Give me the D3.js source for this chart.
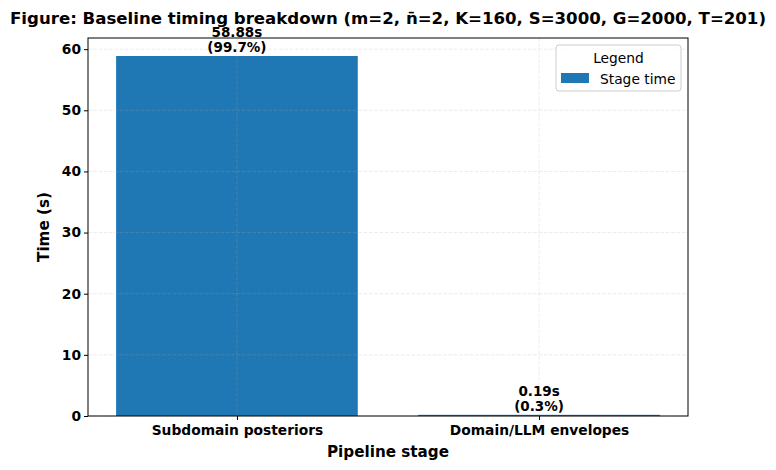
<!DOCTYPE html>
<html>
<head>
<meta charset="utf-8">
<script src="https://cdn.jsdelivr.net/npm/d3@7"></script>
<style>
  body { margin: 0; background: #fff; }
  text { font-family: "DejaVu Sans", sans-serif; }
</style>
</head>
<body>
<div id="chart"></div>
<script>
// stage timings
const stages = ["Subdomain posteriors", "Domain/LLM envelopes"];
const times = [58.88, 0.19];
const shares = ["99.7%", "0.3%"];
const yTicks = [0, 10, 20, 30, 40, 50, 60];

const W = 776, H = 470;
const margin = {top: 38, right: 88, bottom: 54, left: 88},
    width = W - margin.left - margin.right,
    height = H - margin.top - margin.bottom;

const svg = d3.select("#chart").append("svg")
    .attr("width", W)
    .attr("height", H);

const g = svg.append("g")
    .attr("transform", "translate(" + margin.left + "," + margin.top + ")");

// matplotlib-like linear x with bars of width 0.8
const x = d3.scaleLinear().domain([-0.493, 1.493]).range([0, width]);
const y = d3.scaleLinear().domain([0, d3.max(times) * 1.05]).range([height, 0]);
const barW = x(0.8) - x(0);

g.selectAll("rect.bar")
    .data(times)
    .enter().append("rect")
    .attr("class", "bar")
    .attr("x", (d, i) => x(i) - barW / 2)
    .attr("y", d => y(d))
    .attr("width", barW)
    .attr("height", d => y(0) - y(d))
    .attr("fill", "#1f77b4");

// grid on top, faint dashed
g.selectAll("line.hgrid")
    .data(yTicks)
    .enter().append("line")
    .attr("x1", 0).attr("x2", width)
    .attr("y1", d => y(d)).attr("y2", d => y(d))
    .attr("stroke", "#b0b0b0").attr("stroke-opacity", 0.3)
    .attr("stroke-dasharray", "3.7,1.6").attr("stroke-width", 0.8);

g.selectAll("line.vgrid")
    .data(stages)
    .enter().append("line")
    .attr("x1", (d, i) => x(i)).attr("x2", (d, i) => x(i))
    .attr("y1", 0).attr("y2", height)
    .attr("stroke", "#b0b0b0").attr("stroke-opacity", 0.3)
    .attr("stroke-dasharray", "3.7,1.6").attr("stroke-width", 0.8);

// value labels
const lab = g.selectAll("text.val")
    .data(times)
    .enter().append("text")
    .attr("class", "val")
    .attr("text-anchor", "middle")
    .attr("font-size", 13.5)
    .attr("font-weight", "bold");
lab.append("tspan")
    .attr("x", (d, i) => x(i))
    .attr("y", d => y(d) - 19)
    .text(d => d.toFixed(2) + "s");
lab.append("tspan")
    .attr("x", (d, i) => x(i))
    .attr("y", d => y(d) - 4)
    .text((d, i) => "(" + shares[i] + ")");

// axes
const xAxis = g.append("g")
    .attr("transform", "translate(0," + height + ")")
    .call(d3.axisBottom(x).tickValues([0, 1]).tickFormat((d, i) => stages[i]).tickSize(4).tickSizeOuter(0));
xAxis.select(".domain").remove();
xAxis.selectAll("text").attr("font-size", 13.8).attr("font-weight", "bold")
    .attr("font-family", "DejaVu Sans").attr("fill", "#000").attr("dy", "0.85em");

const yAxis = g.append("g")
    .call(d3.axisLeft(y).tickValues(yTicks).tickFormat(d3.format("d")).tickSize(4).tickSizeOuter(0));
yAxis.select(".domain").remove();
yAxis.selectAll("text").attr("font-size", 13.8).attr("font-weight", "bold")
    .attr("font-family", "DejaVu Sans").attr("fill", "#000").attr("x", -7);

// frame
g.append("rect")
    .attr("width", width).attr("height", height)
    .attr("fill", "none").attr("stroke", "#000").attr("stroke-width", 1);

// labels
svg.append("text")
    .attr("x", margin.left + width / 2).attr("y", 457)
    .attr("text-anchor", "middle")
    .attr("font-size", 15.2).attr("font-weight", "bold")
    .text("Pipeline stage");

svg.append("text")
    .attr("transform", "translate(49," + (margin.top + height / 2) + ") rotate(-90)")
    .attr("text-anchor", "middle")
    .attr("font-size", 15.2).attr("font-weight", "bold")
    .text("Time (s)");

svg.append("text")
    .attr("x", 388).attr("y", 24)
    .attr("text-anchor", "middle")
    .attr("font-size", 16.5).attr("font-weight", "bold")
    .attr("textLength", 756).attr("lengthAdjust", "spacingAndGlyphs")
    .text("Figure: Baseline timing breakdown (m=2, n\u0304=2, K=160, S=3000, G=2000, T=201)");

// legend
const lg = svg.append("g").attr("transform", "translate(556,45)");
lg.append("rect")
    .attr("width", 125).attr("height", 46).attr("rx", 3)
    .attr("fill", "#fff").attr("fill-opacity", 0.8)
    .attr("stroke", "#ccc");
lg.append("text")
    .attr("x", 62.5).attr("y", 18)
    .attr("text-anchor", "middle").attr("font-size", 13.8)
    .text("Legend");
lg.append("rect")
    .attr("x", 5).attr("y", 28).attr("width", 28).attr("height", 10)
    .attr("fill", "#1f77b4");
lg.append("text")
    .attr("x", 44).attr("y", 38.5)
    .attr("font-size", 13.8)
    .text("Stage time");
</script>
</body>
</html>
